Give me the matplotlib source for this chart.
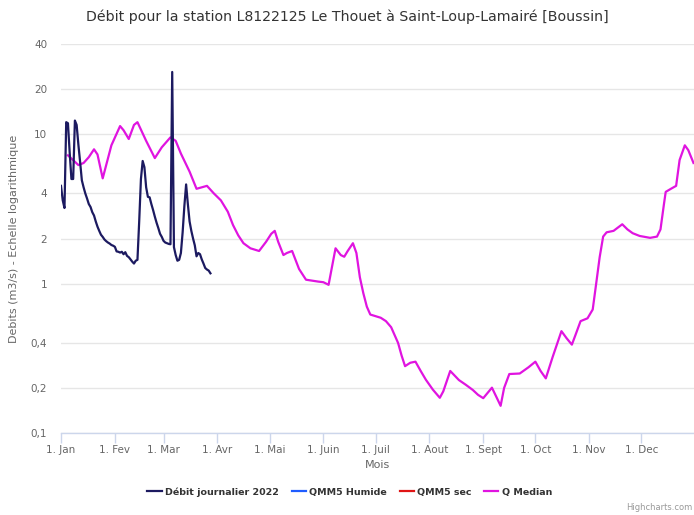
import numpy as np
import matplotlib
matplotlib.use('Agg')
import matplotlib.pyplot as plt
from matplotlib.lines import Line2D

plt.rcParams['font.family'] = ['DejaVu Sans']

# Débit journalier 2022 (m3/s), un point par jour à partir du 1er janvier
debit_2022 = [4.5, 3.6, 3.2, 12.0, 11.8, 7.5, 5.0, 5.0, 12.3, 11.5,
              8.5, 6.5, 4.9, 4.4, 4.0, 3.7, 3.4, 3.25, 3.0, 2.85,
              2.6, 2.4, 2.25, 2.12, 2.05, 1.97, 1.92, 1.88, 1.85, 1.81,
              1.79, 1.76, 1.64, 1.63, 1.61, 1.63, 1.57, 1.62, 1.53, 1.5,
              1.45, 1.40, 1.36, 1.42, 1.44, 2.6, 5.0, 6.6, 6.0, 4.4,
              3.8, 3.77, 3.4, 3.1, 2.8, 2.55, 2.35, 2.15, 2.05, 1.93,
              1.88, 1.86, 1.84, 1.83, 26.0, 1.75, 1.55, 1.42, 1.44, 1.6,
              2.2, 3.3, 4.6, 3.4, 2.6, 2.25, 2.0, 1.8, 1.52, 1.6,
              1.57, 1.45, 1.36, 1.27, 1.24, 1.22, 1.17]
jours_2022 = np.arange(len(debit_2022))

# Q Median (jour de l'année, m3/s)
jours_median = [4, 10, 13, 16, 19, 21, 24, 29, 34, 36, 39, 42, 44, 49, 54, 58, 63, 66, 69, 74,
                78, 84, 88, 92, 96, 99, 102, 105, 109, 114, 118, 121, 123, 125, 128, 130, 133, 137, 141, 148,
                151, 154, 156, 158, 161, 163, 165, 168, 170, 172, 174, 176, 178, 184, 187, 190, 194, 196, 198, 201,
                204, 207, 210, 214, 218, 220, 224, 229, 233, 237, 240, 243, 248, 251, 253, 255, 258, 264, 269, 273,
                276, 279, 283, 288, 291, 294, 296, 299, 303, 306, 308, 310, 312, 314, 318, 323, 326, 329, 333, 339,
                343, 345, 347, 348, 351, 354, 356, 359, 361, 364]
q_median = [7.2, 6.2, 6.4, 7.0, 7.9, 7.3, 5.05, 8.4, 11.3, 10.6, 9.26, 11.5, 12.0, 9.0, 6.9, 8.15, 9.5, 9.0, 7.4, 5.6,
            4.3, 4.5, 4.0, 3.6, 3.02, 2.46, 2.1, 1.86, 1.72, 1.65, 1.9, 2.15, 2.25, 1.9, 1.55, 1.6, 1.65, 1.25, 1.06, 1.03,
            1.02, 0.98, 1.3, 1.72, 1.55, 1.51, 1.65, 1.86, 1.6, 1.1, 0.86, 0.7, 0.62, 0.59, 0.56, 0.51, 0.40, 0.33, 0.28, 0.295,
            0.30, 0.26, 0.227, 0.195, 0.172, 0.19, 0.26, 0.226, 0.21, 0.194, 0.18, 0.171, 0.201, 0.17, 0.152, 0.2, 0.248, 0.25, 0.275, 0.30,
            0.26, 0.232, 0.324, 0.48, 0.43, 0.39, 0.45, 0.56, 0.585, 0.67, 1.0, 1.5, 2.06, 2.2, 2.25, 2.49, 2.3, 2.17, 2.08, 2.02,
            2.06, 2.3, 3.4, 4.1, 4.3, 4.5, 6.7, 8.4, 7.8, 6.4]

# QMM5 humide / sec : aucune valeur tracée
qmm5_humide = []
qmm5_sec = []

mois_debut = [0, 31, 59, 90, 120, 151, 181, 212, 243, 273, 304, 334]
mois_labels = ['1. Jan', '1. Fev', '1. Mar', '1. Avr', '1. Mai', '1. Juin',
               '1. Juil', '1. Aout', '1. Sept', '1. Oct', '1. Nov', '1. Dec']
y_ticks = [0.1, 0.2, 0.4, 1, 2, 4, 10, 20, 40]
y_labels = ['0,1', '0,2', '0,4', '1', '2', '4', '10', '20', '40']

c_debit = '#1c1a60'
c_humide = '#1f5cff'
c_sec = '#e01515'
c_median = '#e014e0'

W, H = 694, 515
fig = plt.figure(figsize=(W / 100, H / 100), dpi=100)
ax = fig.add_axes([61 / W, 1 - 433 / H, 632.5 / W, (433 - 44) / H])

ax.plot(jours_median, q_median, color=c_median, lw=1.6, zorder=3)
ax.plot(jours_2022, debit_2022, color=c_debit, lw=1.6, zorder=4)
ax.plot(range(len(qmm5_humide)), qmm5_humide, color=c_humide, lw=1.6)
ax.plot(range(len(qmm5_sec)), qmm5_sec, color=c_sec, lw=1.6)

ax.set_yscale('log')
ax.set_ylim(0.1, 40)
ax.set_xlim(0, 364)
ax.set_yticks(y_ticks)
ax.set_yticklabels(y_labels)
ax.yaxis.set_minor_locator(matplotlib.ticker.NullLocator())
ax.set_xticks(mois_debut)
ax.set_xticklabels(mois_labels)

ax.grid(axis='y', color='#e6e6e6', lw=1)
ax.set_axisbelow(True)
for s in ['top', 'right', 'left']:
    ax.spines[s].set_visible(False)
ax.spines['bottom'].set_color('#ccd6eb')
ax.spines['bottom'].set_linewidth(1)
ax.tick_params(axis='y', length=0, pad=10, labelsize=7.5, labelcolor='#666666')
ax.tick_params(axis='x', length=7, width=1, color='#ccd6eb', pad=1.5,
               labelsize=7.5, labelcolor='#666666')

ax.set_xlabel('Mois', fontsize=8, color='#666666', labelpad=4)
ax.set_ylabel('Debits (m3/s) - Echelle logarithmique', fontsize=8,
              color='#666666', labelpad=8)

fig.text(0.5, 1 - 17 / H,
         'Débit pour la station L8122125 Le Thouet à Saint-Loup-Lamairé [Boussin]',
         ha='center', va='center', fontsize=10.2, color='#333333')

handles = [Line2D([], [], color=c_debit, lw=1.6),
           Line2D([], [], color=c_humide, lw=1.6),
           Line2D([], [], color=c_sec, lw=1.6),
           Line2D([], [], color=c_median, lw=1.6)]
labels = ['Débit journalier 2022', 'QMM5 Humide', 'QMM5 sec', 'Q Median']
leg = fig.legend(handles, labels, loc='center', bbox_to_anchor=(350 / W, 1 - 492 / H),
                 ncol=4, frameon=False, handlelength=1.5, handletextpad=0.4,
                 columnspacing=1.3, prop={'size': 6.8, 'weight': 'bold'})
for t in leg.get_texts():
    t.set_color('#333333')

fig.text(692 / W, 1 - 508 / H, 'Highcharts.com', ha='right', va='center',
         fontsize=6, color='#999999')

fig.savefig('out.png', dpi=100)
